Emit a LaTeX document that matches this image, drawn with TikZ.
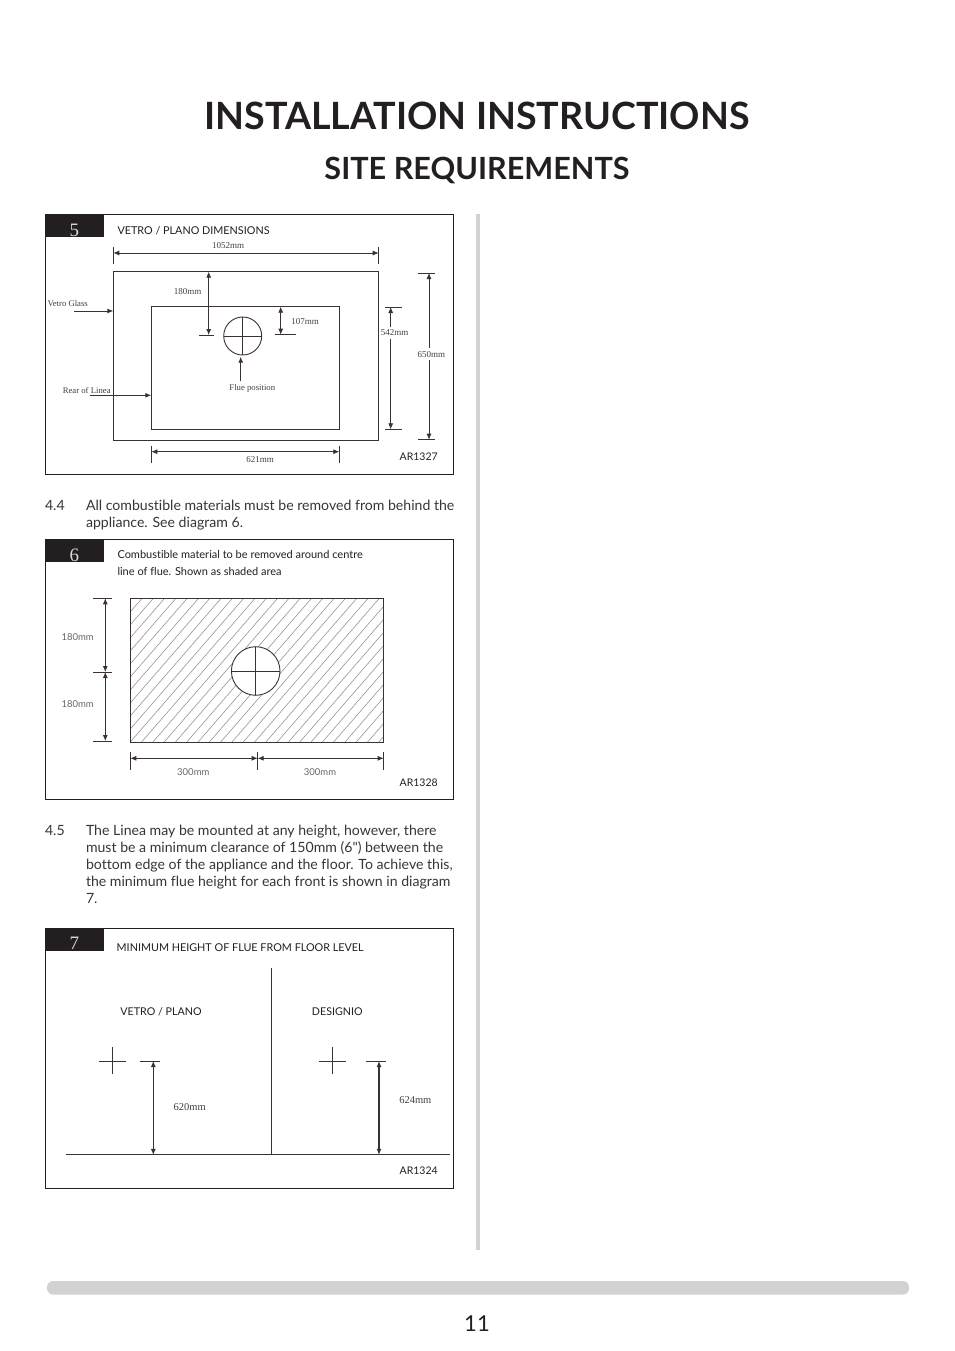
\documentclass[tikz,border=0pt]{standalone}
\usepackage{fontspec}
\defaultfontfeatures[\rmfamily]{}
\setmainfont[Ligatures=NoCommon]{Lato}
\newfontfamily\dimserif{Liberation Serif}
\usetikzlibrary{arrows.meta}
\definecolor{ink}{HTML}{231F20}
\definecolor{lineink}{HTML}{3A3230}
\definecolor{softink}{HTML}{45403E}
\definecolor{graylabel}{HTML}{6A6664}
\definecolor{barfill}{HTML}{D2D2D2}
\tikzset{
  x=1pt,y=-1pt,
  every node/.style={inner sep=0pt,outer sep=0pt,text=ink},
  frame/.style={draw=ink,line width=0.9pt},
  tab/.style={fill=ink,draw=none},
  tabnum/.style={font=\fontsize{19}{19}\selectfont\dimserif,text=white!85!black},
  bodytext/.style={font=\fontsize{14.1}{17}\selectfont,anchor=base west,align=left,text=ink!90},
  caption/.style={font=\fontsize{10.8}{17}\selectfont,anchor=west},
  artref/.style={font=\fontsize{10.5}{12}\selectfont,anchor=center},
  panelhead/.style={font=\fontsize{10.7}{12}\selectfont,anchor=center},
  dimlabel/.style={font=\fontsize{9}{10}\selectfont\dimserif,text=softink},
  breaklabel/.style={dimlabel,fill=white,inner ysep=3pt},
  noteserif/.style={font=\fontsize{8.7}{10}\selectfont\dimserif,text=softink},
  bigdim/.style={font=\fontsize{10.5}{11}\selectfont\dimserif,text=softink},
  sanslabel/.style={font=\fontsize{9.5}{10}\selectfont,text=graylabel},
  outline/.style={draw=lineink,line width=0.9pt},
  thin line/.style={draw=lineink,line width=0.7pt},
  tick/.style={draw=lineink,line width=0.8pt},
  dimboth/.style={draw=lineink,line width=0.8pt,{Latex[length=6pt,width=5pt]}-{Latex[length=6pt,width=5pt]}},
  dimone/.style={draw=lineink,line width=0.9pt,-{Latex[length=6pt,width=5pt]}},
  hatchline/.style={draw=lineink!55,line width=0.55pt},
}
\begin{document}
\begin{tikzpicture}
\useasboundingbox (0,0) rectangle (954,1351);
\fill[white] (0,0) rectangle (954,1351);

% headings
\node[font=\fontsize{37.6}{38}\selectfont\bfseries] (title) at (477,115.5) {INSTALLATION INSTRUCTIONS};
\node[font=\fontsize{30.6}{31}\selectfont\bfseries] (subtitle) at (477,170) {SITE REQUIREMENTS};

% column rule and foot bar
\fill[barfill] (476,214) rectangle (479.5,1250);
\fill[barfill,rounded corners=6pt] (47,1281) rectangle (909,1294.5);
\node[font=\fontsize{22}{22}\selectfont] (pageno) at (477,1324) {11};

% ---------- panel 5
\draw[frame] (45.3,214.7) rectangle (453.5,474.5);
\fill[tab] (45.3,214.7) rectangle (104,237);
\node[tabnum] (n5) at (74.3,230) {5};
\node[caption] (c5) at (117.5,230.7) {VETRO / PLANO DIMENSIONS};
\node[artref] (r5) at (418.7,456.3) {AR1327};

\draw[outline] (113.3,271.7) rectangle (378.7,440);
\draw[outline] (151.3,306.7) rectangle (339.3,429.3);
\node[circle,draw=lineink,line width=0.9pt,minimum size=38pt] (flue5) at (242.7,336) {};
\draw[thin line] (flue5.north) -- (flue5.south);
\draw[thin line] (flue5.west) -- (flue5.east);

\coordinate (a1) at (113.3,253); \coordinate (a2) at (378.7,253);
\draw[tick] (113.3,247.3) -- (113.3,264);
\draw[tick] (378.7,247.3) -- (378.7,264);
\draw[dimboth] (a1) -- (a2);
\node[dimlabel] (l1052) at (228,245.5) {1052mm};

\coordinate (b1) at (208.7,271.7); \coordinate (b2) at (208.7,335);
\draw[tick] (199,335) -- (214.3,335);
\draw[dimboth] (b1) -- (b2);
\node[dimlabel] (l180) at (187.7,291.5) {180mm};

\coordinate (c1) at (280.7,306.7); \coordinate (c2) at (280.7,334.7);
\draw[tick] (275.3,334.7) -- (296,334.7);
\draw[dimboth] (c1) -- (c2);
\node[dimlabel] (l107) at (305,321.7) {107mm};

\coordinate (d1) at (390.7,307); \coordinate (d2) at (390.7,429.3);
\draw[tick] (385,307) -- (402,307);
\draw[tick] (385,429.3) -- (402,429.3);
\draw[dimboth] (d1) -- (d2);
\node[breaklabel] (l542) at (394.5,333) {542mm};

\coordinate (e1) at (429,273); \coordinate (e2) at (429,439.7);
\draw[tick] (418.3,273) -- (435,273);
\draw[tick] (418.3,439.7) -- (435,439.7);
\draw[dimboth] (e1) -- (e2);
\node[breaklabel] (l650) at (431.3,354.3) {650mm};

\coordinate (f1) at (151.3,451.7); \coordinate (f2) at (339.3,451.7);
\draw[tick] (151.3,446) -- (151.3,463.3);
\draw[tick] (339.3,446) -- (339.3,463.3);
\draw[dimboth] (f1) -- (f2);
\node[dimlabel] (l621) at (260,459.5) {621mm};

\node[noteserif] (vglass) at (67.7,303.3) {Vetro Glass};
\coordinate (vg1) at (74,311); \coordinate (vg2) at (113.3,311);
\draw[dimone] (vg1) -- (vg2);
\node[noteserif] (rear) at (86.7,390) {Rear of Linea};
\coordinate (rl1) at (90,395.3); \coordinate (rl2) at (151.3,395.3);
\draw[dimone] (rl1) -- (rl2);
\node[noteserif] (fluepos) at (252.3,388) {Flue position};
\coordinate (fp1) at (240.7,381); \coordinate (fp2) at (240.7,356.7);
\draw[dimone] (fp1) -- (fp2);

% ---------- panel 4.4 text
\node[bodytext] (p44n) at (45,510) {4.4};
\node[bodytext] (p44a) at (86,510) {All combustible materials must be removed from behind the};
\node[bodytext] (p44b) at (86,527) {appliance. See diagram 6.};

% ---------- panel 6
\draw[frame] (45.3,539.5) rectangle (453.5,799.5);
\fill[tab] (45.3,539.5) rectangle (104,561.7);
\node[tabnum] (n6) at (74.3,555) {6};
\node[caption,font=\fontsize{11}{17}\selectfont] (c6a) at (117.5,554.3) {Combustible material to be removed around centre};
\node[caption,font=\fontsize{11}{17}\selectfont] (c6b) at (117.5,571.2) {line of flue. Shown as shaded area};
\node[artref] (r6) at (418.7,782.3) {AR1328};

\begin{scope}
  \clip (130.3,598.3) rectangle (383.7,742);
  \foreach \k in {-12,-11,...,24} {
    \draw[hatchline] ({130.3+\k*11.3},742) -- ({130.3+\k*11.3+125},598);
  }
\end{scope}
\draw[outline] (130.3,598.3) rectangle (383.7,742);
\node[circle,draw=lineink,fill=white,line width=0.9pt,minimum size=48.6pt] (flue6) at (255.7,671) {};
\draw[thin line] (flue6.north) -- (flue6.south);
\draw[thin line] (flue6.west) -- (flue6.east);

\coordinate (g1) at (105.3,598.3); \coordinate (g2) at (105.3,672); \coordinate (g3) at (105.3,741);
\draw[tick] (93.3,598.3) -- (111.7,598.3);
\draw[tick] (93.3,672) -- (111.7,672);
\draw[tick] (93.3,741) -- (111.7,741);
\draw[dimboth] (g1) -- (g2);
\draw[dimboth] (g2) -- (g3);
\node[sanslabel] (l180a) at (77.7,636.7) {180mm};
\node[sanslabel] (l180b) at (77.7,704.5) {180mm};

\coordinate (h1) at (130.3,758.3); \coordinate (h2) at (257.7,758.3); \coordinate (h3) at (383.7,758.3);
\draw[tick] (130.3,751.7) -- (130.3,770);
\draw[tick] (257.7,751.7) -- (257.7,770);
\draw[tick] (383.7,751.7) -- (383.7,770);
\draw[dimboth] (h1) -- (h2);
\draw[dimboth] (h2) -- (h3);
\node[sanslabel] (l300a) at (193.3,771.7) {300mm};
\node[sanslabel] (l300b) at (320,771.7) {300mm};

% ---------- 4.5 text
\node[bodytext] (p45n) at (45,835) {4.5};
\node[bodytext] (p45a) at (86,835) {The Linea may be mounted at any height, however, there};
\node[bodytext] (p45b) at (86,852) {must be a minimum clearance of 150mm (6") between the};
\node[bodytext] (p45c) at (86,869) {bottom edge of the appliance and the floor. To achieve this,};
\node[bodytext] (p45d) at (86,886) {the minimum flue height for each front is shown in diagram};
\node[bodytext] (p45e) at (86,903) {7.};

% ---------- panel 7
\draw[frame] (45.3,928.5) rectangle (453.5,1188.5);
\fill[tab] (45.3,928.5) rectangle (104,950.7);
\node[tabnum] (n7) at (74.3,943.5) {7};
\node[caption] (c7) at (116.7,947.7) {MINIMUM HEIGHT OF FLUE FROM FLOOR LEVEL};
\node[artref] (r7) at (418.7,1170.7) {AR1324};

\coordinate (fl1) at (66,1154.8); \coordinate (fl2) at (450,1154.8);
\draw[thin line,line width=0.9pt] (fl1) -- (fl2);
\coordinate (dv1) at (271.3,968.3); \coordinate (dv2) at (271.3,1154.8);
\draw[thin line] (dv1) -- (dv2);
\node[panelhead] (vp) at (161,1011.3) {VETRO / PLANO};
\node[panelhead] (dg) at (337.3,1011.3) {DESIGNIO};

\draw[thin line] (99,1061) -- (125.7,1061);
\draw[thin line] (112.3,1047.3) -- (112.3,1074);
\draw[tick] (139.7,1061) -- (160,1061);
\coordinate (i1) at (153.3,1061); \coordinate (i2) at (153.3,1154.8);
\draw[dimboth] (i1) -- (i2);
\node[bigdim] (l620) at (189.7,1107) {620mm};

\draw[thin line] (319,1061) -- (345.7,1061);
\draw[thin line] (332.3,1047.3) -- (332.3,1074);
\draw[tick] (365.7,1061) -- (386,1061);
\coordinate (j1) at (379,1061); \coordinate (j2) at (379,1154.8);
\draw[dimboth,line width=1.1pt] (j1) -- (j2);
\node[bigdim] (l624) at (415.3,1100) {624mm};
\end{tikzpicture}
\end{document}
